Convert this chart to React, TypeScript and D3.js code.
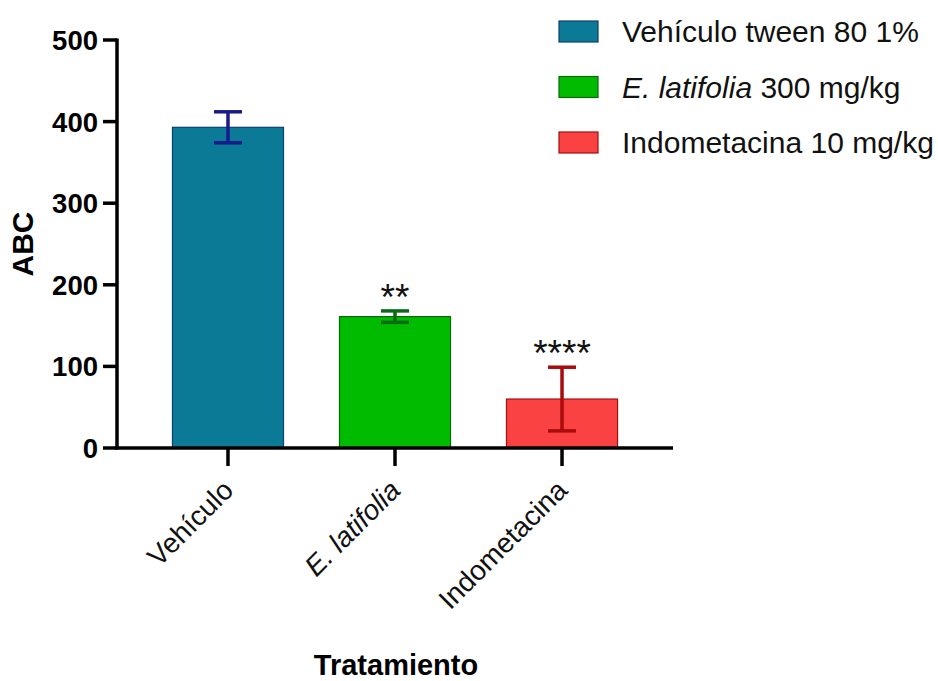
import React from "react";
import * as d3 from "d3";

const categories = ["Vehículo", "E. latifolia", "Indometacina"];
const means = [393, 161, 60];
const sds = [19, 7, 39];
const significance = ["", "**", "****"];
const legendLabels = [
  { italic: "", rest: "Vehículo tween 80 1%" },
  { italic: "E. latifolia", rest: " 300 mg/kg" },
  { italic: "", rest: "Indometacina 10 mg/kg" },
];
const yTicks = [0, 100, 200, 300, 400, 500];

const fills = ["#0b7a96", "#00bb00", "#fa4242"];
const strokes = ["#0d3f70", "#0a6a0a", "#a01010"];
const errColors = ["#1a1a8a", "#0b6a18", "#a80c0c"];

const FONT = "'Liberation Sans', Arial, Helvetica, sans-serif";

export default function App() {
  const W = 938, H = 681;
  const left = 117, right = 673, top = 40, bottom = 448;
  const x = d3.scaleBand<string>().domain(categories).range([left, right]).paddingInner(0.335).paddingOuter(0.332);
  const y = d3.scaleLinear().domain([0, 500]).range([bottom, top]);
  const capW = 28;

  return (
    <svg width={W} height={H} style={{ position: "absolute", left: 0, top: 0, background: "#fff" }} fontFamily={FONT}>
      {/* bars */}
      {categories.map((c, i) => (
        <rect key={"b" + c} x={x(c)!} y={y(means[i])} width={x.bandwidth()} height={y(0) - y(means[i])}
          fill={fills[i]} stroke={strokes[i]} strokeWidth={1.2} />
      ))}
      {/* error bars */}
      {categories.map((c, i) => {
        const cx = x(c)! + x.bandwidth() / 2;
        const y1 = y(means[i] + sds[i]);
        const y2 = y(means[i] - sds[i]);
        return (
          <g key={"e" + c} stroke={errColors[i]} strokeWidth={3.5}>
            <line x1={cx} x2={cx} y1={y1} y2={y2} />
            <line x1={cx - capW / 2} x2={cx + capW / 2} y1={y1} y2={y1} />
            <line x1={cx - capW / 2} x2={cx + capW / 2} y1={y2} y2={y2} />
          </g>
        );
      })}
      {/* significance */}
      {categories.map((c, i) => {
        const cx = x(c)! + x.bandwidth() / 2;
        return significance[i] ? (
          <text key={"s" + c} x={cx} y={y(means[i] + sds[i]) - 1} textAnchor="middle" fontSize={37} fill="#111">
            {significance[i]}
          </text>
        ) : null;
      })}
      {/* y axis */}
      <line x1={left} x2={left} y1={top - 1.5} y2={bottom + 1.5} stroke="#000" strokeWidth={3.5} />
      {yTicks.map((t) => (
        <g key={"yt" + t}>
          <line x1={left - 14} x2={left} y1={y(t)} y2={y(t)} stroke="#000" strokeWidth={3.5} />
          <text x={left - 19} y={y(t)} dy="0.36em" textAnchor="end" fontSize={27.5} fontWeight="bold" fill="#000">{t}</text>
        </g>
      ))}
      {/* x axis */}
      <line x1={left - 1.5} x2={right} y1={bottom} y2={bottom} stroke="#000" strokeWidth={3.5} />
      {categories.map((c, i) => {
        const cx = x(c)! + x.bandwidth() / 2;
        const ax = cx + 7, ay = 492;
        return (
          <g key={"xt" + c}>
            <line x1={cx} x2={cx} y1={bottom} y2={bottom + 18} stroke="#000" strokeWidth={3.5} />
            <text x={ax} y={ay} transform={`rotate(-45 ${ax} ${ay})`} textAnchor="end" fontSize={28}
              fontStyle={i === 1 ? "italic" : "normal"} fill="#111">{c}</text>
          </g>
        );
      })}
      {/* axis titles */}
      <text x={33} y={244} transform="rotate(-90 33 244)" textAnchor="middle" fontSize={30} fontWeight="bold" fill="#000">ABC</text>
      <text x={396} y={675} textAnchor="middle" fontSize={29} fontWeight="bold" fill="#000">Tratamiento</text>
      {/* legend */}
      {legendLabels.map((l, i) => {
        const ly = 21 + i * 55.5;
        return (
          <g key={"lg" + i}>
            <rect x={559} y={ly} width={39} height={21} fill={fills[i]} stroke={strokes[i]} strokeWidth={1.2} />
            <text x={622} y={ly + 21} fontSize={30} fill="#111">
              {l.italic ? <tspan fontStyle="italic">{l.italic}</tspan> : null}
              <tspan>{l.rest}</tspan>
            </text>
          </g>
        );
      })}
    </svg>
  );
}
